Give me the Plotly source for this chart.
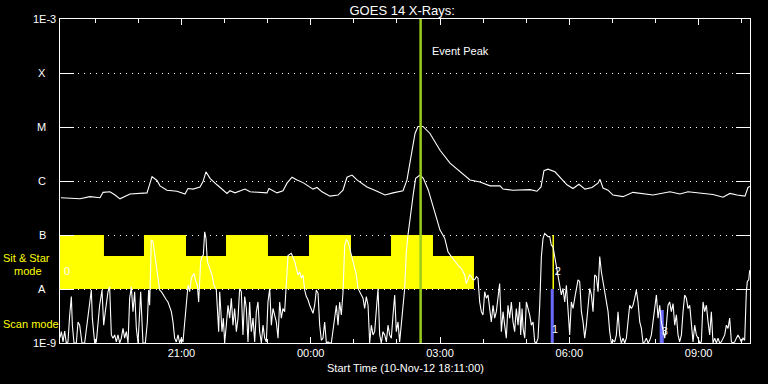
import pandas as pd
import plotly.graph_objects as go

# ---------------- data ----------------
start_time = pd.Timestamp("2012-11-10 18:11:00")
end_minutes = 960.5
event_peak = pd.Timestamp("2012-11-11 02:33:00")

# GOES long channel: minutes since start, log10 flux (W/m^2)
long_minutes = [1.4, 27.8, 41.8, 55.7, 59.9, 69.6, 76.6, 83.5, 97.4, 111.4, 121.1, 128.1, 135.0, 139.2,
                148.9, 162.9, 174.0, 178.2, 185.1, 194.9, 199.1, 203.2, 208.8, 218.5, 232.5, 236.6, 243.6,
                257.5, 264.5, 288.1, 290.9, 302.1, 310.4, 316.0, 323.0, 329.9, 338.3, 352.2, 357.7, 364.7,
                375.8, 387.0, 393.9, 399.5, 406.5, 413.4, 427.3, 441.3, 452.4, 463.5, 477.5, 483.0, 490.0,
                494.2, 498.3, 505.3, 515.0, 529.0, 542.9, 556.8, 570.7, 584.6, 598.6, 612.5, 616.7, 630.6,
                654.2, 664.0, 669.6, 673.7, 679.3, 689.0, 698.8, 705.7, 714.1, 722.4, 730.8, 740.5, 748.9,
                751.7, 755.9, 762.8, 769.8, 783.7, 797.6, 811.5, 825.5, 849.1, 863.0, 874.2, 890.9, 909.0,
                922.9, 932.6, 942.4, 953.5, 957.7, 960.5]
long_log10 = [-6.31, -6.33, -6.29, -6.31, -6.21, -6.20, -6.26, -6.33, -6.24, -6.23, -6.22, -5.92, -5.99, -6.09,
              -6.17, -6.19, -6.24, -6.14, -6.15, -6.11, -6.01, -5.83, -5.95, -6.07, -6.23, -6.18, -6.22,
              -6.15, -6.20, -6.22, -6.14, -6.22, -6.18, -6.04, -5.93, -5.98, -6.03, -6.15, -6.12, -6.20,
              -6.28, -6.26, -6.17, -5.93, -5.89, -5.98, -6.11, -6.19, -6.26, -6.22, -6.18, -5.98, -5.43,
              -5.12, -4.99, -4.99, -5.12, -5.43, -5.67, -5.83, -5.98, -6.02, -6.09, -6.09, -6.15, -6.17,
              -6.16, -6.19, -6.11, -5.81, -5.78, -5.83, -5.97, -6.07, -6.14, -6.06, -6.15, -6.12, -6.04,
              -5.97, -6.13, -6.17, -6.26, -6.29, -6.21, -6.24, -6.26, -6.20, -6.24, -6.20, -6.23, -6.25,
              -6.30, -6.23, -6.26, -6.28, -6.12, -6.10]

# GOES short channel: minutes since start, log10 flux (W/m^2)
short_minutes = [0.0, 1.9, 4.2, 6.5, 8.8, 11.1, 13.5, 15.8, 17.2, 19.5, 22.7, 25.1, 27.4, 28.8, 30.6, 34.3,
                 41.3, 43.6, 45.0, 48.3, 50.6, 55.2, 58.5, 60.8, 63.1, 66.8, 69.1, 71.5, 73.8, 76.1, 78.4,
                 80.7, 83.1, 85.4, 87.7, 90.0, 92.3, 94.7, 97.0, 99.3, 101.6, 103.9, 106.3, 108.6, 110.9,
                 112.3, 115.5, 118.8, 121.6, 123.4, 124.8, 127.1, 129.5, 131.8, 134.1, 136.4, 138.7, 141.1,
                 143.4, 145.7, 148.0, 150.3, 155.0, 157.3, 159.6, 161.9, 164.3, 166.6, 168.9, 171.2, 173.5,
                 175.9, 178.2, 180.5, 182.8, 185.1, 186.5, 188.4, 191.2, 193.0, 195.8, 197.7, 199.5, 201.4,
                 203.2, 205.1, 208.3, 211.6, 214.4, 217.6, 220.9, 222.3, 223.7, 225.5, 227.4, 229.2, 231.5,
                 233.9, 236.2, 238.5, 240.8, 243.1, 245.5, 247.8, 250.1, 252.4, 254.7, 257.1, 259.4, 261.7,
                 264.0, 266.3, 268.7, 271.0, 273.3, 275.6, 277.9, 280.3, 282.6, 284.9, 287.2, 289.5, 291.9,
                 294.2, 296.5, 298.8, 301.1, 303.5, 305.8, 308.1, 310.4, 312.7, 315.1, 317.4,
                 322.0, 324.4, 326.7, 329.0, 331.3, 333.6, 336.0, 338.3, 340.6, 342.9, 345.2, 347.6, 349.9,
                 352.2, 354.5, 356.8, 359.2, 361.5, 363.8, 366.1, 368.4, 370.8, 373.1, 375.4, 377.7, 382.4,
                 384.7, 387.0, 389.3, 391.6, 394.0, 396.3, 398.6, 400.9, 403.2, 405.6, 407.9, 410.2, 412.5,
                 414.8, 417.2, 419.5, 421.8, 424.1, 426.4, 428.8, 431.1, 433.4, 435.7, 438.0, 440.4, 442.7,
                 445.0, 447.3, 449.6, 452.0, 454.3, 456.6, 458.9, 461.2, 463.6, 465.9, 468.2, 470.5, 472.8,
                 475.2, 477.5, 479.8, 482.1, 484.4, 491.9, 495.1, 501.1, 505.8, 512.7, 519.7, 529.0,
                 535.5, 540.1, 544.8, 549.4, 554.0, 558.7, 563.3, 565.6, 568.0, 570.3, 572.6, 574.9, 577.2,
                 579.6, 581.9, 584.2, 586.5, 588.8, 591.2, 593.5, 595.8, 598.1, 600.4, 602.8, 605.1, 607.4,
                 609.7, 612.0, 614.4, 616.7, 619.0, 621.3, 623.6, 626.0, 628.3, 630.6, 632.9, 635.2, 637.6,
                 639.9, 641.3, 643.2, 644.6, 646.9, 649.2, 651.5, 653.8, 656.2, 658.5, 660.8, 663.1, 665.4,
                 667.8, 670.1, 672.4, 674.7, 677.0, 679.4, 681.7, 684.0, 686.3, 688.6, 691.0, 693.3, 695.6,
                 697.9, 700.2, 702.6, 704.9, 707.2, 709.5, 711.8, 714.2, 716.5, 718.8, 721.1, 723.4, 725.8,
                 728.1, 730.4, 732.7, 735.0, 737.4, 739.7, 742.0, 744.3, 746.6, 749.0, 751.3, 753.6, 755.9,
                 758.2, 760.6, 762.9, 765.2, 767.5, 769.8, 772.2, 774.5, 776.8, 779.1, 781.4, 783.8, 786.1,
                 788.4, 790.7, 793.0, 795.4, 797.7, 800.0, 802.3, 804.6, 807.0, 809.3, 811.6, 813.9, 816.2,
                 818.6, 820.9, 823.2, 825.5, 827.8, 830.2, 832.5, 834.8, 837.1, 839.4, 841.8, 844.1, 846.4,
                 848.7, 851.0, 853.4, 855.7, 858.0, 860.3, 862.6, 865.0, 867.3, 869.6, 871.9, 874.2, 876.6,
                 878.9, 881.2, 883.5, 885.8, 888.2, 890.5, 892.8, 895.1, 897.4, 899.8, 902.1, 904.4, 906.7,
                 909.0, 911.4, 913.7, 916.0, 918.3, 920.6, 923.0, 925.3, 927.6, 929.9, 932.2, 934.6, 936.9,
                 939.2, 941.5, 943.8, 946.2, 948.5, 950.8, 953.1, 955.4, 956.8, 958.7, 960.1]
short_log10 = [-8.90, -8.79, -8.98, -8.78, -9.00, -8.98, -8.48, -8.14, -8.67, -9.00, -9.00, -8.61, -8.67, -8.82, -9.00, -9.00,
               -8.30, -8.02, -8.54, -9.00, -8.98, -8.30, -8.02, -8.67, -8.42, -8.05, -7.96, -8.85, -8.91, -8.85, -8.98,
               -8.85, -9.00, -8.91, -8.73, -8.91, -8.79, -9.00, -8.17, -7.96, -8.42, -8.05, -8.73, -9.00, -8.42,
               -8.05, -9.00, -9.00, -8.61, -8.02, -8.30, -7.09, -7.12, -7.37, -7.56, -7.86, -8.02, -8.05,
               -8.11, -8.17, -8.20, -8.24, -8.42, -8.61, -8.91, -8.98, -8.85, -9.00, -8.91, -8.98, -8.67,
               -8.24, -7.93, -8.05, -7.80, -7.74, -7.71, -7.83, -7.93, -8.24, -7.49, -7.40, -7.37, -6.94,
               -7.06, -7.49, -7.62, -7.74, -7.93, -8.02, -8.79, -8.05, -8.36, -8.79, -8.54, -9.00, -8.67,
               -8.30, -8.54, -8.17, -8.67, -8.36, -8.79, -8.54, -7.99, -8.05, -8.85, -8.14, -8.36, -8.98,
               -8.24, -8.79, -8.54, -8.98, -8.42, -8.24, -8.79, -9.00, -8.67, -8.91, -8.98, -8.24, -7.99,
               -8.67, -8.36, -8.48, -8.61, -8.91, -8.24, -8.54, -8.36, -8.42, -7.80, -7.38,
               -7.34, -7.43, -7.49, -7.62, -7.74, -7.68, -7.80, -7.74, -8.02, -8.14, -8.20, -8.30, -8.36,
               -8.45, -8.30, -8.02, -8.08, -8.67, -8.95, -8.91, -8.61, -9.00, -8.98, -9.00, -9.00, -8.54,
               -8.30, -8.67, -8.24, -8.48, -8.05, -7.19, -7.09, -7.12, -7.22, -7.37, -7.49, -7.62, -7.74,
               -7.99, -8.05, -8.11, -8.17, -8.36, -8.14, -8.30, -9.00, -8.67, -8.85, -8.79, -8.42, -7.99,
               -8.85, -9.00, -8.79, -8.85, -8.98, -8.67, -8.85, -8.91, -8.48, -8.11, -8.79, -8.61, -8.98,
               -8.67, -8.30, -7.99, -7.31, -7.00, -6.23, -5.95, -5.89, -5.95, -6.17, -6.48, -6.91,
               -7.06, -7.31, -7.40, -7.49, -7.56, -7.62, -7.74, -7.90, -7.80, -7.74, -7.77, -7.83, -7.83,
               -7.77, -7.80, -8.24, -8.42, -8.48, -8.05, -8.17, -8.11, -8.36, -8.61, -8.30, -8.54, -8.42,
               -8.17, -7.90, -8.79, -8.42, -8.67, -8.91, -8.30, -8.54, -8.24, -8.61, -8.79, -8.36, -8.67,
               -8.24, -8.85, -8.36, -8.73, -8.91, -8.24, -8.36, -8.48, -8.67, -8.61, -8.98, -9.00, -8.91,
               -8.30, -7.40, -7.06, -6.97, -7.00, -7.03, -7.03, -7.19, -7.22, -7.40, -7.56, -7.74, -7.93,
               -8.11, -7.99, -8.24, -7.93, -8.42, -8.85, -8.24, -8.36, -8.17, -7.99, -7.83, -7.86, -8.42,
               -8.61, -8.91, -8.67, -8.30, -7.99, -8.11, -8.42, -7.74, -7.77, -8.05, -7.40, -7.68, -7.86,
               -8.05, -8.17, -8.42, -8.79, -9.00, -8.95, -8.98, -8.85, -8.42, -8.85, -9.00, -8.91, -9.00,
               -8.91, -8.61, -8.30, -8.36, -8.30, -8.17, -8.02, -8.24, -8.61, -8.73, -9.00, -8.98, -8.91,
               -9.00, -8.95, -8.85, -8.61, -8.42, -8.11, -8.54, -8.30, -8.61, -8.79, -8.91, -8.67, -8.30,
               -8.24, -8.42, -8.27, -8.67, -8.48, -8.85, -8.98, -8.85, -8.42, -8.11, -8.17, -8.36, -8.30,
               -8.67, -8.98, -8.67, -8.85, -8.91, -9.00, -8.98, -8.24, -8.42, -8.30, -8.61, -8.85, -8.42,
               -9.00, -8.91, -9.00, -8.91, -9.00, -8.98, -8.91, -8.85, -8.67, -8.73, -8.54, -8.98, -9.00,
               -8.98, -8.91, -8.85, -8.91, -8.98, -8.91, -8.95, -8.05, -7.86, -7.83, -7.65]

# Sit & Stare mode schedule (minutes since start) and top level of each segment
mode_switch_minutes = [0.0, 61.2, 116.9, 175.4, 231.1, 289.5, 346.6, 405.1, 460.8, 519.2, 576.3]
mode_top_log10 = [-7.0, -7.39, -7.0, -7.39, -7.0, -7.39, -7.0, -7.39, -7.0, -7.39]
mode_base_log10 = -8.0

# observation markers
obs_start_minutes = [683.1, 834.8]
obs_end_minutes = [687.3, 840.4]
obs_top_log10 = [-8.0, -8.39]
marker_minutes = 686.6
marker_range_log10 = [-8.0, -7.0]
obs_labels = ["0", "2", "1", "3"]
obs_label_minutes = [9.7, 693.0, 689.0, 842.0]
obs_label_log10 = [-7.69, -7.69, -8.76, -8.80]

# flux class levels
level_log10 = [-9, -8, -7, -6, -5, -4, -3]
level_names = ["1E-9", "A", "B", "C", "M", "X", "1E-3"]

# ---------------- helpers ----------------
def to_time(mins):
    return [start_time + pd.Timedelta(minutes=m) for m in mins]

def to_flux(logs):
    return [10.0 ** v for v in logs]

FONT = "Liberation Sans"
fig = go.Figure()

# Sit & stare yellow step region
px, py = [mode_switch_minutes[0]], [mode_base_log10]
for i, top in enumerate(mode_top_log10):
    px += [mode_switch_minutes[i], mode_switch_minutes[i + 1]]
    py += [top, top]
px += [mode_switch_minutes[-1], mode_switch_minutes[0]]
py += [mode_base_log10, mode_base_log10]
fig.add_trace(go.Scatter(x=to_time(px), y=to_flux(py), fill="toself", fillcolor="#ffff00",
                         line=dict(width=0), mode="lines", hoverinfo="skip", showlegend=False))

# blue observation bars
for s, e, top in zip(obs_start_minutes, obs_end_minutes, obs_top_log10):
    fig.add_trace(go.Scatter(x=to_time([s, s, e, e, s]), y=to_flux([-9.2, top, top, -9.2, -9.2]),
                             fill="toself", fillcolor="#6a6aff", line=dict(width=0), mode="lines",
                             hoverinfo="skip", showlegend=False))
fig.add_trace(go.Scatter(x=to_time([marker_minutes, marker_minutes]), y=to_flux(marker_range_log10),
                         mode="lines", line=dict(color="#ffff00", width=1.5), showlegend=False))

# GOES curves
fig.add_trace(go.Scatter(x=to_time(long_minutes), y=to_flux(long_log10), mode="lines",
                         line=dict(color="white", width=1.1), name="1-8 A", showlegend=False))
fig.add_trace(go.Scatter(x=to_time(short_minutes), y=to_flux(short_log10), mode="lines",
                         line=dict(color="white", width=1.1), name="0.5-4 A", showlegend=False))

# labels of observations
fig.add_trace(go.Scatter(x=to_time(obs_label_minutes), y=to_flux(obs_label_log10), mode="text",
                         text=obs_labels, textfont=dict(color="white", size=11, family=FONT),
                         showlegend=False))

# event peak line
fig.add_shape(type="line", x0=event_peak, x1=event_peak, y0=0, y1=1, xref="x", yref="paper",
              line=dict(color="#9acd1a", width=2.5))
fig.add_annotation(x=event_peak, y=0.926, xref="x", yref="paper", text="Event Peak", showarrow=False,
                   xanchor="left", xshift=9, font=dict(color="white", size=11, family=FONT))

# y-axis class labels
for lv, nm in zip(level_log10, level_names):
    is_num = nm.startswith("1E")
    fig.add_annotation(x=0, y=lv, xref="paper", yref="y", text=nm, showarrow=False,
                       xanchor="right", xshift=-2 if is_num else -12,
                       font=dict(color="white", size=11, family=FONT))

# mode labels
fig.add_annotation(x=0, y=-7.43, xref="paper", yref="y", text="Sit & Star", showarrow=False,
                   xanchor="left", xshift=-59, font=dict(color="#ffff00", size=11, family=FONT))
fig.add_annotation(x=0, y=-7.67, xref="paper", yref="y", text="mode", showarrow=False,
                   xanchor="left", xshift=-48, font=dict(color="#ffff00", size=11, family=FONT))
fig.add_annotation(x=0, y=-8.65, xref="paper", yref="y", text="Scan mode", showarrow=False,
                   xanchor="left", xshift=-59, font=dict(color="#ffff00", size=11, family=FONT))

# x-axis title
fig.add_annotation(x=0.5, y=-0.077, xref="paper", yref="paper", text="Start Time (10-Nov-12 18:11:00)",
                   showarrow=False, yanchor="middle", font=dict(color="white", size=11, family=FONT))

fig.update_layout(
    width=768, height=384,
    margin=dict(l=60, r=18, t=19, b=41),
    paper_bgcolor="black", plot_bgcolor="black",
    title=dict(text="GOES 14 X-Rays:", xref="paper", x=0.496, xanchor="center",
               yref="container", y=0.974, yanchor="middle",
               font=dict(color="white", size=13, family=FONT)),
    showlegend=False,
    font=dict(family=FONT, color="white"),
)
fig.update_xaxes(
    type="date",
    range=[start_time, start_time + pd.Timedelta(minutes=end_minutes)],
    tick0="2012-11-10 00:00:00", dtick=3 * 3600 * 1000, tickformat="%H:%M",
    ticks="inside", ticklen=6, tickcolor="white", tickwidth=1,
    minor=dict(dtick=3600 * 1000, ticks="inside", ticklen=4, tickcolor="white", showgrid=False),
    showline=True, linecolor="white", linewidth=1, mirror="ticks",
    showgrid=False, zeroline=False,
    tickfont=dict(color="white", size=11, family=FONT),
)
fig.update_yaxes(
    type="log", range=[-9, -3],
    tickvals=[10.0 ** v for v in level_log10], showticklabels=False,
    ticks="inside", ticklen=14, tickcolor="white", tickwidth=1,
    showline=True, linecolor="white", linewidth=1, mirror="ticks",
    showgrid=True, gridcolor="white", gridwidth=1, griddash="1px,5px",
    zeroline=False,
)

fig.write_html("out.html", config={"displayModeBar": False},
               post_script="document.body.style.margin='0';document.body.style.background='black';")
